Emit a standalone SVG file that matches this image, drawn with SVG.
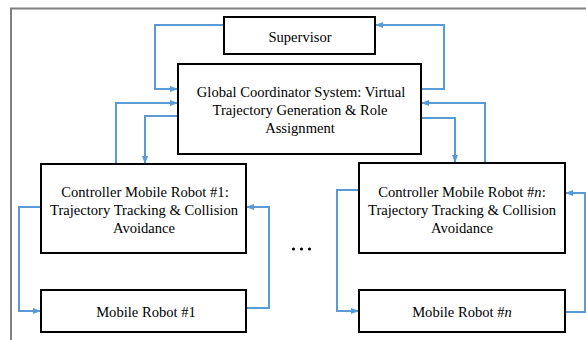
<svg xmlns="http://www.w3.org/2000/svg" width="586" height="340" viewBox="0 0 586 340">
  <style>
    .box { fill: #ffffff; stroke: #000000; stroke-width: 2; }
    .lbl { font-family: "Liberation Serif", "Times New Roman", serif; font-size: 14.6px; fill: #000000; text-anchor: middle; }
    .wire { fill: none; stroke: #5B9BD5; stroke-width: 2; marker-end: url(#arrow); }
    .frame { stroke: #808080; stroke-width: 2; fill: none; }
  </style>
  <defs>
    <marker id="arrow" viewBox="0 0 8 6" refX="8" refY="3" markerWidth="8" markerHeight="6" markerUnits="userSpaceOnUse" orient="auto">
      <path d="M0,0 L8,3 L0,6 z" fill="#5B9BD5"/>
    </marker>
  </defs>

  <rect width="586" height="340" fill="#ffffff"/>

  <!-- page frame -->
  <path class="frame" d="M11,340 V8.5 H586"/>

  <!-- connectors -->
  <g id="connectors">
    <path class="wire" d="M224,25 H155 V89 H178"/>
    <path class="wire" d="M116,164 V103 H178"/>
    <path class="wire" d="M178,116 H145 V164"/>
    <path class="wire" d="M421,89 H444 V25 H375"/>
    <path class="wire" d="M485,163 V103 H421"/>
    <path class="wire" d="M421,118 H455 V163"/>
    <path class="wire" d="M41,207 H19 V311 H41"/>
    <path class="wire" d="M246,308 H269 V207 H246"/>
    <path class="wire" d="M359,190 H337 V311 H359"/>
    <path class="wire" d="M565,312 H585 V193 H565"/>
  </g>

  <g id="supervisor">
    <rect class="box" x="224" y="17" width="151" height="37"/>
    <text class="lbl" x="300" y="42">Supervisor</text>
  </g>

  <g id="coordinator">
    <rect class="box" x="178" y="64" width="243" height="90"/>
    <text class="lbl" x="301" y="97">Global Coordinator System: Virtual</text>
    <text class="lbl" x="300" y="115">Trajectory Generation &amp; Role</text>
    <text class="lbl" x="300" y="133">Assignment</text>
  </g>

  <g id="controller-1">
    <rect class="box" x="41" y="164" width="205" height="89"/>
    <text class="lbl" x="145" y="197">Controller Mobile Robot #1:</text>
    <text class="lbl" x="144" y="215">Trajectory Tracking &amp; Collision</text>
    <text class="lbl" x="144" y="233">Avoidance</text>
  </g>

  <g id="robot-1">
    <rect class="box" x="41" y="290" width="205" height="42"/>
    <text class="lbl" x="146" y="317">Mobile Robot #1</text>
  </g>

  <g id="controller-n">
    <rect class="box" x="359" y="163" width="206" height="90"/>
    <text class="lbl" x="462" y="197">Controller Mobile Robot #<tspan font-style="italic">n</tspan>:</text>
    <text class="lbl" x="462" y="215">Trajectory Tracking &amp; Collision</text>
    <text class="lbl" x="462" y="233">Avoidance</text>
  </g>

  <g id="robot-n">
    <rect class="box" x="359" y="290" width="206" height="42"/>
    <text class="lbl" x="462" y="317">Mobile Robot #<tspan font-style="italic">n</tspan></text>
  </g>

  <g id="ellipsis" fill="#000000">
    <circle cx="293.5" cy="249" r="1.6"/>
    <circle cx="301.5" cy="249" r="1.6"/>
    <circle cx="309.5" cy="249" r="1.6"/>
  </g>
</svg>
